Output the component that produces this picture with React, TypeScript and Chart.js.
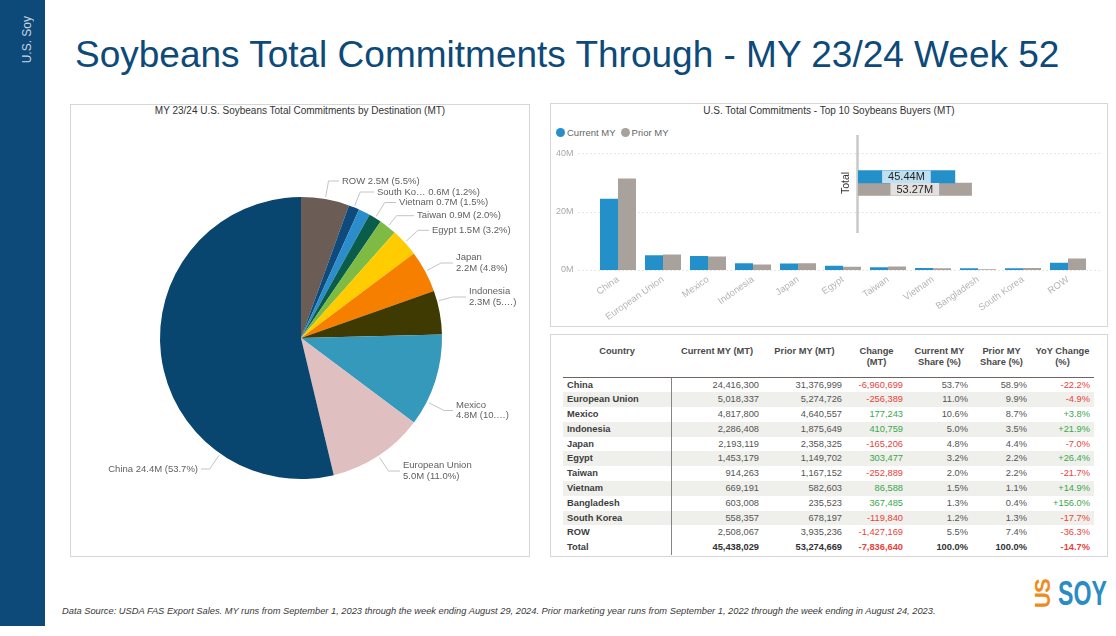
import React, { useEffect, useRef } from 'react';
import { Chart, registerables } from 'chart.js';

Chart.register(...registerables);

const FONT = '"Liberation Sans", Arial, sans-serif';
Chart.defaults.font.family = FONT;

// ---------------- DATA ----------------
const countries = ['China', 'European Union', 'Mexico', 'Indonesia', 'Japan', 'Egypt', 'Taiwan', 'Vietnam', 'Bangladesh', 'South Korea', 'ROW'];
const currentMY = [24416300, 5018337, 4817800, 2286408, 2193119, 1453179, 914263, 669191, 603008, 558357, 2508067];
const priorMY = [31376999, 5274726, 4640557, 1875649, 2358325, 1149702, 1167152, 582603, 235523, 678197, 3935236];
const changeMT = [-6960699, -256389, 177243, 410759, -165206, 303477, -252889, 86588, 367485, -119840, -1427169];
const currentShare = ['53.7%', '11.0%', '10.6%', '5.0%', '4.8%', '3.2%', '2.0%', '1.5%', '1.3%', '1.2%', '5.5%'];
const priorShare = ['58.9%', '9.9%', '8.7%', '3.5%', '4.4%', '2.2%', '2.2%', '1.1%', '0.4%', '1.3%', '7.4%'];
const yoyChange = ['-22.2%', '-4.9%', '+3.8%', '+21.9%', '-7.0%', '+26.4%', '-21.7%', '+14.9%', '+156.0%', '-17.7%', '-36.3%'];

const totalCurrent = 45438029;
const totalPrior = 53274669;
const totalChange = -7836640;
const totalCurrentShare = '100.0%';
const totalPriorShare = '100.0%';
const totalYoY = '-14.7%';

const yTickValues = [0, 20000000, 40000000];

// pie order (clockwise from top) and label texts
const pieOrder = ['ROW', 'South Korea', 'Bangladesh', 'Vietnam', 'Taiwan', 'Egypt', 'Japan', 'Indonesia', 'Mexico', 'European Union', 'China'];
const pieLabelText: string[][] = [
  ['ROW 2.5M (5.5%)'],
  ['South Ko… 0.6M (1.2%)'],
  [],
  ['Vietnam 0.7M (1.5%)'],
  ['Taiwan 0.9M (2.0%)'],
  ['Egypt 1.5M (3.2%)'],
  ['Japan', '2.2M (4.8%)'],
  ['Indonesia', '2.3M (5.…)'],
  ['Mexico', '4.8M (10.…)'],
  ['European Union', '5.0M (11.0%)'],
  ['China 24.4M (53.7%)'],
];

// ---------------- STYLE / LAYOUT ----------------
const pieColors = ['#6b5d56', '#0e4b7c', '#2b8dcc', '#0b5d4b', '#7dbb45', '#ffcc00', '#f77f00', '#3e3a02', '#3499bb', '#e0bfc1', '#08466f'];
const pieLabelLayout: ({ x: number; y: number; frac: number; align: 'left' | 'right' } | null)[] = [
  { x: 271, y: 76, frac: 0.5, align: 'left' },
  { x: 306, y: 87, frac: 0.5, align: 'left' },
  null,
  { x: 328, y: 97.5, frac: 0.5, align: 'left' },
  { x: 346, y: 110.7, frac: 0.5, align: 'left' },
  { x: 361, y: 125.3, frac: 0.5, align: 'left' },
  { x: 385, y: 158, frac: 0.5, align: 'left' },
  { x: 398, y: 192, frac: 0.24, align: 'left' },
  { x: 385, y: 305.5, frac: 0.74, align: 'left' },
  { x: 332, y: 366, frac: 0.5, align: 'left' },
  { x: 127, y: 364, frac: 0.25, align: 'right' },
];
const BLUE = '#2490c9';
const GRAY = '#a8a19c';
const SIDEBAR = '#0d4a79';

const fmt = (n: number) => n.toLocaleString('en-US');

const pieLabelPlugin = {
  id: 'pieLabels',
  afterDatasetsDraw(chart: any) {
    const ctx = chart.ctx;
    const meta = chart.getDatasetMeta(0);
    ctx.save();
    ctx.font = `9.5px ${FONT}`;
    meta.data.forEach((arc: any, i: number) => {
      const lay = pieLabelLayout[i];
      const lines = pieLabelText[i];
      if (!lay || !lines.length) return;
      const { x, y, startAngle, endAngle, outerRadius } = arc.getProps(['x', 'y', 'startAngle', 'endAngle', 'outerRadius'], true);
      const ang = startAngle + (endAngle - startAngle) * lay.frac;
      const dx = Math.cos(ang);
      const dy = Math.sin(ang);
      const ax = x + dx * (outerRadius + 2);
      const ay = y + dy * (outerRadius + 2);
      const t = Math.abs(dy) > 0.05 ? (lay.y - ay) / dy : 10;
      const bx = ax + dx * t;
      const ex = lay.align === 'left' ? lay.x - 3 : lay.x + 3;
      ctx.strokeStyle = '#c4c4c4';
      ctx.lineWidth = 1;
      ctx.beginPath();
      ctx.moveTo(ax, ay);
      ctx.lineTo(bx, lay.y);
      ctx.lineTo(ex, lay.y);
      ctx.stroke();
      ctx.fillStyle = '#606060';
      ctx.textAlign = lay.align;
      ctx.textBaseline = 'middle';
      const lh = 10.5;
      const y0 = lay.y - ((lines.length - 1) * lh) / 2;
      lines.forEach((s, k) => ctx.fillText(s, lay.x, y0 + k * lh));
    });
    ctx.restore();
  },
};

const dottedGridPlugin = {
  id: 'dottedGrid',
  beforeDatasetsDraw(chart: any) {
    const ys = chart.scales.y;
    const { left, right } = chart.chartArea;
    const ctx = chart.ctx;
    ctx.save();
    ctx.strokeStyle = '#cdcdcd';
    ctx.lineWidth = 1;
    ctx.setLineDash([1, 3]);
    yTickValues.forEach((v) => {
      const py = Math.round(ys.getPixelForValue(v)) + 0.5;
      ctx.beginPath();
      ctx.moveTo(left - 17, py);
      ctx.lineTo(right + 9, py);
      ctx.stroke();
    });
    ctx.restore();
  },
};

const totalPlugin = {
  id: 'totalDeco',
  beforeDatasetsDraw(chart: any) {
    const ctx = chart.ctx;
    const { left, top, bottom } = chart.chartArea;
    ctx.save();
    ctx.strokeStyle = '#c8c8c8';
    ctx.lineWidth = 2.5;
    ctx.beginPath();
    ctx.moveTo(left - 0.5, top + 3);
    ctx.lineTo(left - 0.5, bottom - 1);
    ctx.stroke();
    ctx.translate(left - 12, (top + bottom) / 2);
    ctx.rotate(-Math.PI / 2);
    ctx.fillStyle = '#333';
    ctx.font = `10.5px ${FONT}`;
    ctx.textAlign = 'center';
    ctx.textBaseline = 'middle';
    ctx.fillText('Total', 0, 0);
    ctx.restore();
  },
  afterDatasetsDraw(chart: any) {
    const ctx = chart.ctx;
    const boxColors = ['#bfe0f3', '#e3e1df'];
    ctx.save();
    ctx.font = `11px ${FONT}`;
    chart.data.datasets.forEach((ds: any, di: number) => {
      const meta = chart.getDatasetMeta(di);
      meta.data.forEach((bar: any, i: number) => {
        const { x, y, base, height } = bar.getProps(['x', 'y', 'base', 'height'], true);
        const v = ds.data[i] as number;
        const txt = (v / 1e6).toFixed(2) + 'M';
        const cx = (x + base) / 2;
        const w = ctx.measureText(txt).width + 12;
        ctx.fillStyle = boxColors[di];
        ctx.fillRect(cx - w / 2, y - height / 2, w, height);
        ctx.fillStyle = '#252423';
        ctx.textAlign = 'center';
        ctx.textBaseline = 'middle';
        ctx.fillText(txt, cx, y + 0.5);
      });
    });
    ctx.restore();
  },
};

const panel = (l: number, t: number, w: number, h: number): React.CSSProperties => ({
  position: 'absolute',
  left: l,
  top: t,
  width: w,
  height: h,
  border: '1px solid #d6d6d6',
  boxSizing: 'border-box',
  background: '#fff',
});

const colWidths = [108, 92, 83, 61, 65, 59, 63];
const headers = ['Country', 'Current MY (MT)', 'Prior MY (MT)', 'Change\n(MT)', 'Current MY\nShare (%)', 'Prior MY\nShare (%)', 'YoY Change\n(%)'];
const RED = '#e8443c';
const GREEN = '#3aa84b';

export default function App() {
  const pieRef = useRef<HTMLCanvasElement>(null);
  const barRef = useRef<HTMLCanvasElement>(null);
  const totRef = useRef<HTMLCanvasElement>(null);

  useEffect(() => {
    const charts: Chart[] = [];
    const pieValues = pieOrder.map((n) => currentMY[countries.indexOf(n)]);
    charts.push(
      new Chart(pieRef.current!, {
        type: 'pie',
        data: {
          labels: pieOrder,
          datasets: [{ data: pieValues, backgroundColor: pieColors, borderWidth: 0, hoverOffset: 0, radius: 141 } as any],
        },
        options: {
          animation: false,
          responsive: true,
          maintainAspectRatio: false,
          layout: { padding: { top: 15, left: 2 } },
          plugins: { legend: { display: false }, tooltip: { enabled: false } },
        },
        plugins: [pieLabelPlugin],
      })
    );

    charts.push(
      new Chart(barRef.current!, {
        type: 'bar',
        data: {
          labels: countries,
          datasets: [
            { label: 'Current MY', data: currentMY, backgroundColor: BLUE, categoryPercentage: 0.8, barPercentage: 1 },
            { label: 'Prior MY', data: priorMY, backgroundColor: GRAY, categoryPercentage: 0.8, barPercentage: 1 },
          ],
        },
        options: {
          animation: false,
          responsive: true,
          maintainAspectRatio: false,
          layout: { padding: { top: 13, right: 16.5, left: 0, bottom: 0 } },
          plugins: { legend: { display: false }, tooltip: { enabled: false } },
          scales: {
            x: {
              grid: { display: false, drawTicks: false },
              border: { display: false },
              ticks: { autoSkip: false, maxRotation: 35, minRotation: 35, padding: 4, color: '#b5b5b5', font: { size: 9.5, family: FONT } },
              afterFit: (s: any) => {
                s.height = 56;
              },
            },
            y: {
              min: 0,
              max: 40000000,
              grid: { display: false, drawTicks: false },
              border: { display: false },
              afterBuildTicks: (s: any) => {
                s.ticks = yTickValues.map((v) => ({ value: v }));
              },
              ticks: {
                padding: 22,
                color: '#a9a9a9',
                font: { size: 9, family: FONT },
                callback: (v: any) => Number(v) / 1e6 + 'M',
              },
              afterFit: (s: any) => {
                s.width = 44.5;
              },
            },
          },
        },
        plugins: [dottedGridPlugin],
      })
    );

    charts.push(
      new Chart(totRef.current!, {
        type: 'bar',
        data: {
          labels: ['Total'],
          datasets: [
            { label: 'Current MY', data: [totalCurrent], backgroundColor: BLUE, barThickness: 12.5 },
            { label: 'Prior MY', data: [totalPrior], backgroundColor: GRAY, barThickness: 12.5 },
          ],
        },
        options: {
          indexAxis: 'y',
          animation: false,
          responsive: true,
          maintainAspectRatio: false,
          layout: { padding: { left: 20, top: 0, right: 0, bottom: 0 } },
          plugins: { legend: { display: false }, tooltip: { enabled: false } },
          scales: {
            x: { display: false, min: 0, max: 68000000 },
            y: { display: false },
          },
        },
        plugins: [totalPlugin],
      })
    );

    return () => charts.forEach((c) => c.destroy());
  }, []);

  const cellBase: React.CSSProperties = {
    fontSize: 9.3,
    fontFamily: FONT,
    padding: '0 4px',
    whiteSpace: 'nowrap',
    overflow: 'hidden',
    lineHeight: '14.8px',
    height: 14.8,
    color: '#555',
    textAlign: 'right',
  };

  const signColor = (n: number) => (n < 0 ? RED : GREEN);
  const strColor = (s: string) => (s.startsWith('-') ? RED : GREEN);

  return (
    <div style={{ position: 'absolute', left: 0, top: 0, width: 1116, height: 636, overflow: 'hidden', background: '#fff', fontFamily: FONT }}>
      {/* sidebar */}
      <div style={{ position: 'absolute', left: 0, top: 0, width: 45, height: 626, background: SIDEBAR }} />
      <div
        style={{
          position: 'absolute',
          left: 20,
          top: 16,
          writingMode: 'vertical-rl',
          transform: 'rotate(180deg)',
          color: '#c9d6e2',
          fontSize: 12,
          lineHeight: '14px',
          whiteSpace: 'nowrap',
        }}
      >
        U.S. Soy
      </div>

      {/* title */}
      <div style={{ position: 'absolute', left: 75, top: 36, fontSize: 37, lineHeight: '37px', color: SIDEBAR, whiteSpace: 'nowrap' }}>
        Soybeans Total Commitments Through - MY 23/24 Week 52
      </div>

      {/* pie panel */}
      <div style={panel(70, 104, 460, 453)} />
      <div style={{ position: 'absolute', left: 70, width: 460, top: 105, lineHeight: '12px', fontSize: 10, color: '#333', textAlign: 'center', whiteSpace: 'nowrap' }}>
        MY 23/24 U.S. Soybeans Total Commitments by Destination (MT)
      </div>
      <div style={{ position: 'absolute', left: 71, top: 105, width: 458, height: 451 }}>
        <canvas ref={pieRef} />
      </div>

      {/* bar panel */}
      <div style={panel(550, 103, 558, 224)} />
      <div style={{ position: 'absolute', left: 550, width: 558, top: 105, lineHeight: '12px', fontSize: 10, color: '#333', textAlign: 'center', whiteSpace: 'nowrap' }}>
        U.S. Total Commitments - Top 10 Soybeans Buyers (MT)
      </div>
      <div style={{ position: 'absolute', left: 556, top: 126, height: 12, display: 'flex', alignItems: 'center', fontSize: 9.5, color: '#666', whiteSpace: 'nowrap' }}>
        <span style={{ width: 9, height: 9, borderRadius: '50%', background: BLUE, display: 'inline-block', marginRight: 2 }} />
        <span style={{ marginRight: 5 }}>Current MY</span>
        <span style={{ width: 9, height: 9, borderRadius: '50%', background: GRAY, display: 'inline-block', marginRight: 2 }} />
        <span>Prior MY</span>
      </div>
      <div style={{ position: 'absolute', left: 551, top: 126, width: 556, height: 200 }}>
        <canvas ref={barRef} />
      </div>
      <div style={{ position: 'absolute', left: 838, top: 132, width: 165, height: 102 }}>
        <canvas ref={totRef} />
      </div>

      {/* table panel */}
      <div style={panel(550, 334, 558, 223)} />
      <table
        style={{
          position: 'absolute',
          left: 563,
          top: 340,
          width: 531,
          borderCollapse: 'collapse',
          tableLayout: 'fixed',
          fontFamily: FONT,
          fontSize: 9.3,
        }}
      >
        <colgroup>
          {colWidths.map((w, i) => (
            <col key={i} style={{ width: w }} />
          ))}
        </colgroup>
        <thead>
          <tr style={{ height: 37 }}>
            {headers.map((h, i) => (
              <th
                key={i}
                style={{
                  fontSize: 9.3,
                  fontFamily: FONT,
                  fontWeight: 'bold',
                  color: '#4a4a4a',
                  textAlign: 'center',
                  verticalAlign: 'top',
                  padding: '6px 2px 0',
                  lineHeight: '11px',
                  whiteSpace: 'pre-line',
                  borderBottom: '1.5px solid #6e6560',
                  height: 37,
                  boxSizing: 'border-box',
                }}
              >
                {h}
              </th>
            ))}
          </tr>
        </thead>
        <tbody>
          {countries.map((c, i) => (
            <tr key={c} style={{ height: 14.8, background: i % 2 === 1 ? '#efefeb' : 'transparent' }}>
              <td style={{ ...cellBase, textAlign: 'left', fontWeight: 'bold', color: '#3d3d3d', borderRight: '1px solid #858585' }}>{c}</td>
              <td style={cellBase}>{fmt(currentMY[i])}</td>
              <td style={cellBase}>{fmt(priorMY[i])}</td>
              <td style={{ ...cellBase, color: signColor(changeMT[i]) }}>{fmt(changeMT[i])}</td>
              <td style={cellBase}>{currentShare[i]}</td>
              <td style={cellBase}>{priorShare[i]}</td>
              <td style={{ ...cellBase, color: strColor(yoyChange[i]) }}>{yoyChange[i]}</td>
            </tr>
          ))}
          <tr style={{ height: 14.8 }}>
            <td style={{ ...cellBase, textAlign: 'left', fontWeight: 'bold', color: '#3d3d3d', borderRight: '1px solid #858585' }}>Total</td>
            <td style={{ ...cellBase, fontWeight: 'bold', color: '#333' }}>{fmt(totalCurrent)}</td>
            <td style={{ ...cellBase, fontWeight: 'bold', color: '#333' }}>{fmt(totalPrior)}</td>
            <td style={{ ...cellBase, fontWeight: 'bold', color: signColor(totalChange) }}>{fmt(totalChange)}</td>
            <td style={{ ...cellBase, fontWeight: 'bold', color: '#333' }}>{totalCurrentShare}</td>
            <td style={{ ...cellBase, fontWeight: 'bold', color: '#333' }}>{totalPriorShare}</td>
            <td style={{ ...cellBase, fontWeight: 'bold', color: strColor(totalYoY) }}>{totalYoY}</td>
          </tr>
        </tbody>
      </table>

      {/* footer */}
      <div style={{ position: 'absolute', left: 62, top: 605, fontSize: 9.3, lineHeight: '12px', fontStyle: 'italic', color: '#3a3a3a', whiteSpace: 'nowrap' }}>
        Data Source: USDA FAS Export Sales. MY runs from September 1, 2023 through the week ending August 29, 2024. Prior marketing year runs from September 1, 2022 through the week ending in August 24, 2023.
      </div>

      {/* logo */}
      <div
        style={{
          position: 'absolute',
          left: 1030,
          top: 580,
          width: 26,
          height: 28,
          writingMode: 'vertical-rl',
          transform: 'rotate(180deg)',
          color: '#f08a1c',
          fontWeight: 'bold',
          fontSize: 22,
          lineHeight: '26px',
          textAlign: 'center',
          letterSpacing: -1,
        }}
      >
        US
      </div>
      <div
        style={{
          position: 'absolute',
          left: 1058,
          top: 575,
          fontWeight: 'bold',
          fontSize: 35,
          lineHeight: '35px',
          color: '#2a8cc4',
          transform: 'scaleX(0.66)',
          transformOrigin: 'left top',
          whiteSpace: 'nowrap',
        }}
      >
        SOY
      </div>
    </div>
  );
}
